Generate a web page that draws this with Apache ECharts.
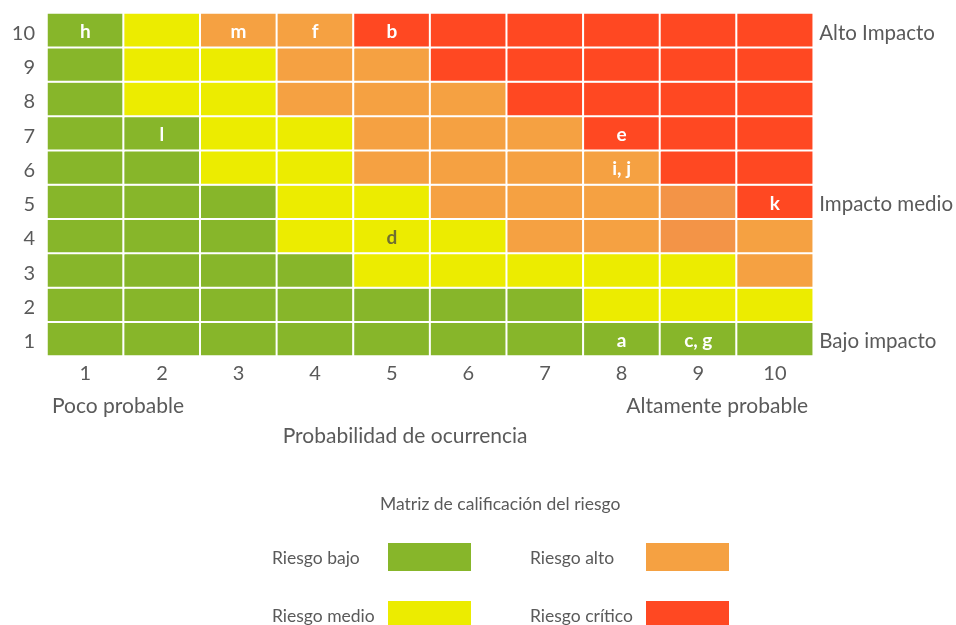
<!DOCTYPE html>
<html>
<head>
<meta charset="utf-8">
<script src="https://cdn.jsdelivr.net/npm/echarts@6/dist/echarts.min.js"></script>
<style>
html,body{margin:0;padding:0;background:#fff}
#matriz{width:956px;height:625px}
</style>
</head>
<body>
<div id="matriz"></div>
<script>
// ejes
var probabilidad = ['1','2','3','4','5','6','7','8','9','10']
var impacto = ['1','2','3','4','5','6','7','8','9','10']
var impactoTexto = ['Bajo impacto','','','','Impacto medio','','','','','Alto Impacto']
var extremos = ['Poco probable','Altamente probable']

// nivel de riesgo por fila de impacto (1 abajo .. 10 arriba): 0 bajo, 1 medio, 2 alto, 3 critico
var niveles = [
	[0,0,0,0,0,0,0,0,0,0],
	[0,0,0,0,0,0,0,1,1,1],
	[0,0,0,0,1,1,1,1,1,2],
	[0,0,0,1,1,1,2,2,2,2],
	[0,0,0,1,1,2,2,2,2,3],
	[0,0,1,1,2,2,2,2,3,3],
	[0,0,1,1,2,2,2,3,3,3],
	[0,1,1,2,2,2,3,3,3,3],
	[0,1,1,2,2,3,3,3,3,3],
	[0,1,2,2,3,3,3,3,3,3]
]
var nombres = ['Riesgo bajo','Riesgo medio','Riesgo alto','Riesgo crítico']
var colores = ['#87b62a','#ecec00','#f5a142','#ff4822']

// riesgos marcados [probabilidad, impacto, texto]
var riesgos = [
	['1','10','h'],['3','10','m'],['4','10','f'],['5','10','b'],
	['2','7','l'],['8','7','e'],['8','6','i, j'],['10','5','k'],
	['5','4','d'],['8','1','a'],['9','1','c, g']
]
// dos celdas con un naranja algo mas oscuro
var tonoOscuro = [['9','5'],['9','4']]

function etiqueta(x, y){
	for(var i=0;i<riesgos.length;i++){
		if(riesgos[i][0]==x && riesgos[i][1]==y) return riesgos[i][2]
	}
	return ''
}
function oscuro(x, y){
	for(var i=0;i<tonoOscuro.length;i++){
		if(tonoOscuro[i][0]==x && tonoOscuro[i][1]==y) return true
	}
	return false
}

var series = []
for(let n=0;n<nombres.length;n++){
	var datos = []
	for(var f=0;f<impacto.length;f++){
		for(var c=0;c<probabilidad.length;c++){
			if(niveles[f][c]!=n) continue
			var item = {
				name: etiqueta(probabilidad[c], impacto[f]),
				value: [probabilidad[c], impacto[f], n]
			}
			if(oscuro(probabilidad[c], impacto[f])) item.itemStyle = {color:'#f39447'}
			datos.push(item)
		}
	}
	series.push({
		name: nombres[n],
		type: 'heatmap',
		data: datos,
		itemStyle: {color: colores[n], borderColor:'#fff', borderWidth:2},
		label: {
			show: true,
			formatter: function(p){ return p.name },
			color: n==1 ? '#707030' : '#fff',
			fontFamily: 'Lato',
			fontSize: 19,
			fontWeight: 'bold',
			offset: [0,2]
		},
		emphasis: {disabled: true}
	})
}

var gris = '#5a5a5a'
var tickRich = {a: {color:gris, fontSize:20, fontFamily:'Lato', padding:[6,0,0,0]}}
var ladoRich = {a: {color:gris, fontSize:20.5, fontFamily:'Lato', padding:[6,0,0,0]}}

var leyenda = {
	orient: 'vertical',
	top: 541,
	height: 100,
	padding: 0,
	align: 'right',
	icon: 'rect',
	itemWidth: 85,
	itemHeight: 30,
	itemGap: 26,
	selectedMode: false,
	formatter: function(name){ return '{t|'+name+'}' },
	textStyle: {rich: {t: {width:110, align:'left', fontSize:17.5, color:gris, fontFamily:'Lato', padding:[3,0,0,0]}}}
}

var chart = echarts.init(document.getElementById('matriz'))
chart.setOption({
	animation: false,
	textStyle: {fontFamily:'Lato'},
	title: {
		text: 'Matriz de calificación del riesgo',
		left: 375,
		top: 490,
		textStyle: {fontFamily:'Lato', fontSize:17.5, fontWeight:'normal', color:gris}
	},
	grid: {left:47, top:13, right:142, bottom:269},
	xAxis: [{
		type: 'category',
		data: probabilidad,
		axisLine: {show:false},
		axisTick: {show:false},
		splitLine: {show:false},
		axisLabel: {color:gris, fontSize:20, margin:8},
		name: 'Probabilidad de ocurrencia',
		nameLocation: 'middle',
		nameGap: 70,
		nameTextStyle: {color:gris, fontSize:21, padding:[0,50,0,0]}
	},{
		type: 'value',
		position: 'bottom',
		min: 0,
		max: 10,
		interval: 10,
		axisLine: {show:false},
		axisTick: {show:false},
		splitLine: {show:false},
		axisLabel: {
			margin: 40,
			showMinLabel: true,
			showMaxLabel: true,
			alignMinLabel: 'left',
			alignMaxLabel: 'right',
			formatter: function(v){ return v==0 ? '{l|'+extremos[0]+'}' : '{r|'+extremos[1]+'}' },
			rich: {
				l: {color:gris, fontSize:21, padding:[0,0,0,5]},
				r: {color:gris, fontSize:21, padding:[0,5,0,0]}
			}
		}
	}],
	yAxis: [{
		type: 'category',
		data: impacto,
		axisLine: {show:false},
		axisTick: {show:false},
		splitLine: {show:false},
		axisLabel: {margin:12, formatter: function(v){ return '{a|'+v+'}' }, rich: tickRich}
	},{
		type: 'category',
		data: impactoTexto,
		position: 'right',
		axisLine: {show:false},
		axisTick: {show:false},
		splitLine: {show:false},
		axisLabel: {margin:6, interval:0, formatter: function(v){ return v ? '{a|'+v+'}' : '' }, rich: ladoRich}
	}],
	legend: [
		Object.assign({data: ['Riesgo bajo','Riesgo medio'], left: 272}, leyenda),
		Object.assign({data: ['Riesgo alto','Riesgo crítico'], left: 530}, leyenda)
	],
	series: series
})
</script>
</body>
</html>
